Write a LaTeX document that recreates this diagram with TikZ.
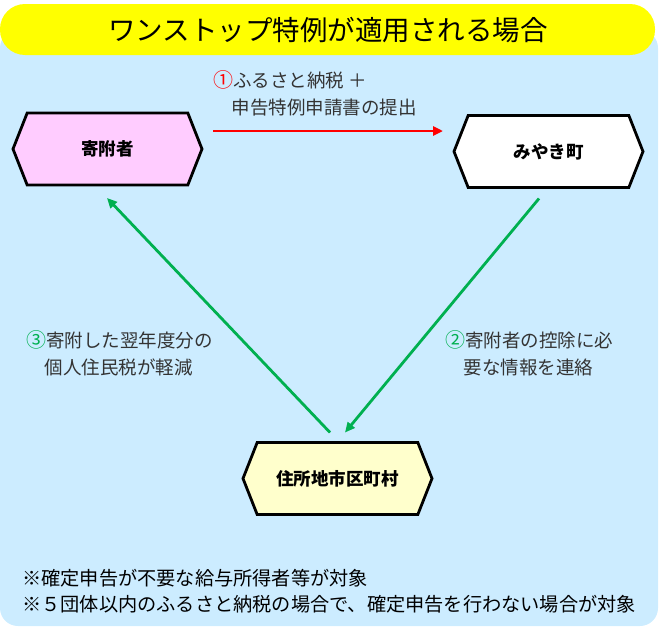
\documentclass[tikz,border=0pt]{standalone}
\usepackage{fontspec}
\setmainfont{Noto Sans CJK JP}
\usetikzlibrary{shapes.symbols,arrows.meta,calc}
\definecolor{skyback}{HTML}{CCECFF}
\definecolor{titleyellow}{HTML}{FFFF00}
\definecolor{donorpink}{HTML}{FFCCFF}
\definecolor{homecream}{HTML}{FFFFCC}
\definecolor{leafgreen}{HTML}{00B050}
\definecolor{labelgray}{HTML}{333333}
\tikzset{
  hexbox/.style={signal,signal to=east and west,signal pointer angle=137,
    draw=black,line width=2.8pt,minimum width=189pt,minimum height=72pt,
    inner sep=0pt,outer sep=0pt,font=\bfseries\fontsize{17.5}{20}\selectfont},
  steplabel/.style={anchor=west,align=left,inner sep=0pt,text=labelgray,
    font=\fontsize{18.5}{27}\selectfont},
  sendarrow/.style={draw=red,line width=2.8pt,-{Triangle[length=10pt,width=9pt]}},
  notearrow/.style={draw=leafgreen,line width=2.8pt,-{Triangle[length=10pt,width=9pt]}}
}
\newcommand{\stepno}[2]{\textcolor{#1}{\fontsize{20}{20}\selectfont #2}}
\begin{document}
\begin{tikzpicture}[x=1pt,y=-1pt]
\useasboundingbox (0,0) rectangle (660,629);
% background and title bar
\fill[skyback,rounded corners=18pt] (0,30) rectangle (658,626);
\fill[titleyellow,rounded corners=25pt] (0,4) rectangle (655,55);
\node (title) at (328,30) {\fontsize{27.5}{30}\selectfont ワンストップ特例が適用される場合};
\node[hexbox,fill=donorpink] (donor) at (107.5,149) {寄附者};
\node[hexbox,fill=white] (town) at (548.5,151.5) {みやき町};
\node[hexbox,fill=homecream] (home) at (337.5,478.5) {住所地市区町村};
\draw[sendarrow] ($(donor.east)+(11,-18)$) -- ($(town.west)+(-11,-20.5)$);
\draw[notearrow] ($(town.south)+(-9.5,11)$) -- ($(home.north)+(7.5,-10)$);
\draw[notearrow] ($(home.north)+(-7.5,-10)$) -- ($(donor.south)+(-0.5,13)$);
\node[steplabel] (sendlbl) at (213,93) {\stepno{red}{①}ふるさと納税 ＋\\　申告特例申請書の提出};
\node[steplabel] (informlbl) at (445,353.5) {\stepno{leafgreen}{②}寄附者の控除に必\\　要な情報を連絡};
\node[steplabel] (relieflbl) at (26,353.5) {\stepno{leafgreen}{③}寄附した翌年度分の\\　個人住民税が軽減};
\node[anchor=west,align=left,inner sep=0pt,font=\fontsize{19.2}{26}\selectfont] (notes) at (22,591)
  {※確定申告が不要な給与所得者等が対象\\※５団体以内のふるさと納税の場合で、確定申告を行わない場合が対象};
\end{tikzpicture}
\end{document}
